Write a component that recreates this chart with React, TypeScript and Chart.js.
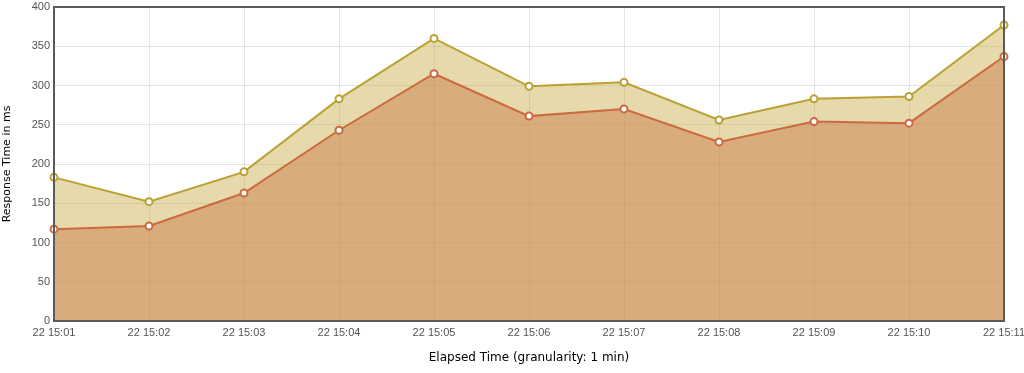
import React, { useEffect, useRef } from "react";
import { Chart, registerables } from "chart.js";

Chart.register(...registerables);

const categories = [
  "22 15:01", "22 15:02", "22 15:03", "22 15:04", "22 15:05", "22 15:06",
  "22 15:07", "22 15:08", "22 15:09", "22 15:10", "22 15:11",
];
const upperSeries = [183, 152, 190, 283, 360, 299, 304, 256, 283, 286, 377];
const lowerSeries = [117, 121, 163, 243, 315, 261, 270, 228, 254, 252, 337];
const yTicks = [0, 50, 100, 150, 200, 250, 300, 350, 400];

const borderPlugin = {
  id: "plotBorder",
  afterDraw(chart: any) {
    const { ctx, chartArea } = chart;
    ctx.save();
    ctx.strokeStyle = "#5a5a5a";
    ctx.lineWidth = 2;
    ctx.strokeRect(chartArea.left, chartArea.top, chartArea.right - chartArea.left, chartArea.bottom - chartArea.top);
    ctx.restore();
  },
};

export default function App() {
  const ref = useRef<HTMLCanvasElement>(null);
  useEffect(() => {
    if (!ref.current) return;
    const chart = new Chart(ref.current, {
      type: "line",
      data: {
        labels: categories,
        datasets: [
          {
            label: "lower",
            data: lowerSeries,
            borderColor: "#cc6a3e",
            backgroundColor: "rgba(206,127,82,0.5)",
            fill: "origin",
            borderWidth: 2,
            pointRadius: 3.5,
            pointBorderWidth: 2,
            pointBackgroundColor: "#ffffff",
            pointBorderColor: "#cc6a3e",
            tension: 0,
          },
          {
            label: "upper",
            data: upperSeries,
            borderColor: "#bba032",
            backgroundColor: "rgba(192,160,48,0.4)",
            fill: "origin",
            borderWidth: 2,
            pointRadius: 3.5,
            pointBorderWidth: 2,
            pointBackgroundColor: "#ffffff",
            pointBorderColor: "#bba032",
            tension: 0,
          },
        ],
      },
      options: {
        animation: false,
        responsive: true,
        maintainAspectRatio: false,
        layout: { padding: { top: 7, right: 20, left: 0, bottom: 0 } },
        plugins: { legend: { display: false }, tooltip: { enabled: false } },
        scales: {
          x: {
            offset: false,
            grid: { color: "rgba(0,0,0,0.1)", drawTicks: false },
            border: { display: false },
            ticks: {
              color: "#545454",
              font: { family: "Liberation Sans", size: 11 },
              maxRotation: 0,
              autoSkip: false,
              padding: 5,
            },
            title: {
              display: true,
              text: "Elapsed Time (granularity: 1 min)",
              color: "#000000",
              font: { family: "DejaVu Sans", size: 12 },
              padding: { top: 4, bottom: 8 },
            },
            afterFit(scale: any) {
              scale.height = 52;
              scale.paddingLeft = 0;
              scale.paddingRight = 0;
            },
          },
          y: {
            min: 0,
            max: 400,
            afterBuildTicks(scale: any) {
              scale.ticks = yTicks.map((v) => ({ value: v }));
            },
            grid: { color: "rgba(0,0,0,0.1)", drawTicks: false },
            border: { display: false },
            ticks: {
              color: "#545454",
              font: { family: "Liberation Sans", size: 11 },
              padding: 4,
            },
            title: {
              display: true,
              text: "Response Time in ms",
              color: "#000000",
              font: { family: "DejaVu Sans", size: 11 },
              padding: { top: 1, bottom: 6 },
            },
            afterFit(scale: any) {
              scale.width = 54;
              scale.paddingTop = 0;
              scale.paddingBottom = 0;
            },
          },
        },
      },
      plugins: [borderPlugin],
    });
    return () => chart.destroy();
  }, []);
  return (
    <div style={{ position: "fixed", left: 0, top: 0, width: 1024, height: 373 }}>
      <canvas ref={ref} />
    </div>
  );
}
